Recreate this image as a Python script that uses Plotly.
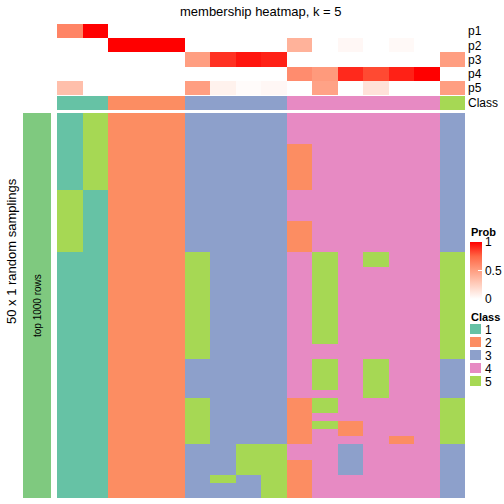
import plotly.graph_objects as go

# ---------------- data ----------------
columns = [f"s{i+1}" for i in range(16)]
prob_labels = ["p1", "p2", "p3", "p4", "p5"]
p1 = [0.62, 1.00, 0, 0, 0, 0, 0, 0, 0, 0, 0, 0, 0, 0, 0, 0]
p2 = [0, 0, 1.00, 1.00, 1.00, 0, 0, 0, 0, 0.40, 0, 0.04, 0, 0.03, 0, 0]
p3 = [0, 0, 0, 0, 0, 0.50, 0.88, 0.95, 0.92, 0, 0, 0, 0, 0, 0, 0.50]
p4 = [0, 0, 0, 0, 0, 0, 0, 0, 0, 0.58, 0.52, 0.90, 0.82, 0.92, 1.00, 0]
p5 = [0.33, 0, 0, 0, 0, 0.50, 0.07, 0.02, 0.04, 0, 0.48, 0, 0.15, 0, 0, 0.50]
column_class = [1, 1, 2, 2, 2, 3, 3, 3, 3, 4, 4, 4, 4, 4, 4, 5]

# class assigned in each of 50 random samplings (rows) for each column
sampling_rows = [
    "1522233334444443", "1522233334444443", "1522233334444443", "1522233334444443",
    "1522233332444443", "1522233332444443", "1522233332444443", "1522233332444443",
    "1522233332444443", "1522233332444443",
    "5122233334444443", "5122233334444443", "5122233334444443", "5122233334444443",
    "5122233332444443", "5122233332444443", "5122233332444443", "5122233332444443",
    "1122253334545445", "1122253334545445",
    "1122253334544445", "1122253334544445", "1122253334544445", "1122253334544445",
    "1122253334544445", "1122253334544445", "1122253334544445", "1122253334544445",
    "1122253334544445", "1122253334544445",
    "1122253334444445", "1122253334444445",
    "1122233334545443", "1122233334545443", "1122233334545443", "1122233334545443",
    "1122233334445443",
    "1122253332544445", "1122253332544445",
    "1122253332444445",
    "1122253332524445",
    "1122253332424445",
    "1122253332444245",
    "1122233554434443", "1122233554434443",
    "1122233552434443", "1122233552434443",
    "1122235352444443",
    "1122233352444443", "1122233352444443",
]
class_names = ["1", "2", "3", "4", "5"]
class_colors = ["#66C2A5", "#FC8D62", "#8DA0CB", "#E78AC3", "#A6D854"]

# ---------------- helpers ----------------
W = H = 504
def px_x(p):
    return p / W
def px_y(p):
    return 1 - p / H

def discrete_scale(colors):
    n = len(colors)
    cs = []
    for i, c in enumerate(colors):
        cs.append([i / n, c])
        cs.append([(i + 1) / n, c])
    return cs

class_scale = discrete_scale(class_colors)
prob_scale = [[0, "#FFFFFF"], [0.25, "#FFCFBF"], [0.5, "#FF9E81"], [0.75, "#FF6746"], [1, "#FF0000"]]

z_main = [[int(ch) for ch in row] for row in sampling_rows]
row_ids = [f"r{i+1}" for i in range(len(sampling_rows))]

FONT = "Liberation Sans, Arial, sans-serif"

fig = go.Figure()

# main heatmap
fig.add_trace(go.Heatmap(
    z=z_main, x=columns, y=row_ids, colorscale=class_scale, zmin=0.5, zmax=5.5,
    showscale=False, xaxis="x", yaxis="y", hoverinfo="skip"))

# probability annotation
fig.add_trace(go.Heatmap(
    z=[p1, p2, p3, p4, p5], x=columns, y=prob_labels, colorscale=prob_scale,
    zmin=0, zmax=1, xaxis="x", yaxis="y2", hoverinfo="skip",
    colorbar=dict(
        x=px_x(470), xanchor="left", xpad=0,
        y=px_y(242), yanchor="top", ypad=0,
        lenmode="pixels", len=57, thickness=12, thicknessmode="pixels",
        outlinewidth=0, tickvals=[0, 0.5, 1], ticktext=["0", "0.5", "1"],
        ticks="inside", ticklen=4, tickcolor="white", tickwidth=1,
        tickfont=dict(size=12, family=FONT, color="#000000"),
    )))

# class annotation row
fig.add_trace(go.Heatmap(
    z=[column_class], x=columns, y=["Class"], colorscale=class_scale, zmin=0.5, zmax=5.5,
    showscale=False, xaxis="x", yaxis="y3", hoverinfo="skip"))

# left annotation bar
fig.add_trace(go.Heatmap(
    z=[[1]], x=["top 1000 rows"], y=["all"], colorscale=[[0, "#7FC97F"], [1, "#7FC97F"]],
    showscale=False, xaxis="x2", yaxis="y4", hoverinfo="skip"))

# class legend swatches
fig.add_trace(go.Heatmap(
    z=[[1], [2], [3], [4], [5]], x=["Class"], y=class_names, colorscale=class_scale,
    zmin=0.5, zmax=5.5, showscale=False, xaxis="x3", yaxis="y5", ygap=3, hoverinfo="skip"))

hidden = dict(showgrid=False, zeroline=False, showticklabels=False, ticks="", showline=False)

fig.update_layout(
    width=W, height=H, margin=dict(l=0, r=0, t=0, b=0, autoexpand=False),
    paper_bgcolor="white", plot_bgcolor="white",
    font=dict(family=FONT, size=12, color="#000000"),
    xaxis=dict(domain=[px_x(57), px_x(465)], anchor="y", **hidden),
    yaxis=dict(domain=[px_y(498), px_y(113)], anchor="x", autorange="reversed", **hidden),
    yaxis2=dict(domain=[px_y(95), px_y(24)], anchor="x", autorange="reversed",
                showgrid=False, zeroline=False, ticks="", side="right",
                tickmode="array", tickvals=prob_labels,
                tickfont=dict(size=12, family=FONT), ticklabelstandoff=2),
    yaxis3=dict(domain=[px_y(110), px_y(96)], anchor="x",
                showgrid=False, zeroline=False, ticks="", side="right",
                tickfont=dict(size=12, family=FONT), ticklabelstandoff=2),
    xaxis2=dict(domain=[px_x(23), px_x(51)], anchor="y4", **hidden),
    yaxis4=dict(domain=[px_y(498), px_y(113)], anchor="x2", **hidden),
    xaxis3=dict(domain=[px_x(470), px_x(481)], anchor="y5", **hidden),
    yaxis5=dict(domain=[px_y(388), px_y(323)], anchor="x3", autorange="reversed",
                showgrid=False, zeroline=False, ticks="", side="right",
                tickmode="array", tickvals=class_names, ticktext=class_names,
                tickfont=dict(size=12, family=FONT), ticklabelstandoff=3),
    annotations=[
        dict(text="membership heatmap, k = 5", x=px_x(261), y=px_y(11), xref="paper", yref="paper",
             showarrow=False, font=dict(size=13, family=FONT), xanchor="center", yanchor="middle"),
        dict(text="50 x 1 random samplings", x=px_x(11), y=px_y(251), xref="paper", yref="paper",
             showarrow=False, textangle=-90, font=dict(size=13, family=FONT),
             xanchor="center", yanchor="middle"),
        dict(text="top 1000 rows", x=px_x(37), y=px_y(306), xref="paper", yref="paper",
             showarrow=False, textangle=-90, font=dict(size=10, family=FONT),
             xanchor="center", yanchor="middle"),
        dict(text="<b>Prob</b>", x=px_x(470), y=px_y(232), xref="paper", yref="paper",
             showarrow=False, font=dict(size=11, family=FONT), xanchor="left", yanchor="middle",
             xshift=-1),
        dict(text="<b>Class</b>", x=px_x(470), y=px_y(317), xref="paper", yref="paper",
             showarrow=False, font=dict(size=11, family=FONT), xanchor="left", yanchor="middle",
             xshift=-1),
    ],
)

fig.write_html("out.html", config={"displayModeBar": False},
               post_script="document.body.style.margin='0';document.body.style.overflow='hidden';")
